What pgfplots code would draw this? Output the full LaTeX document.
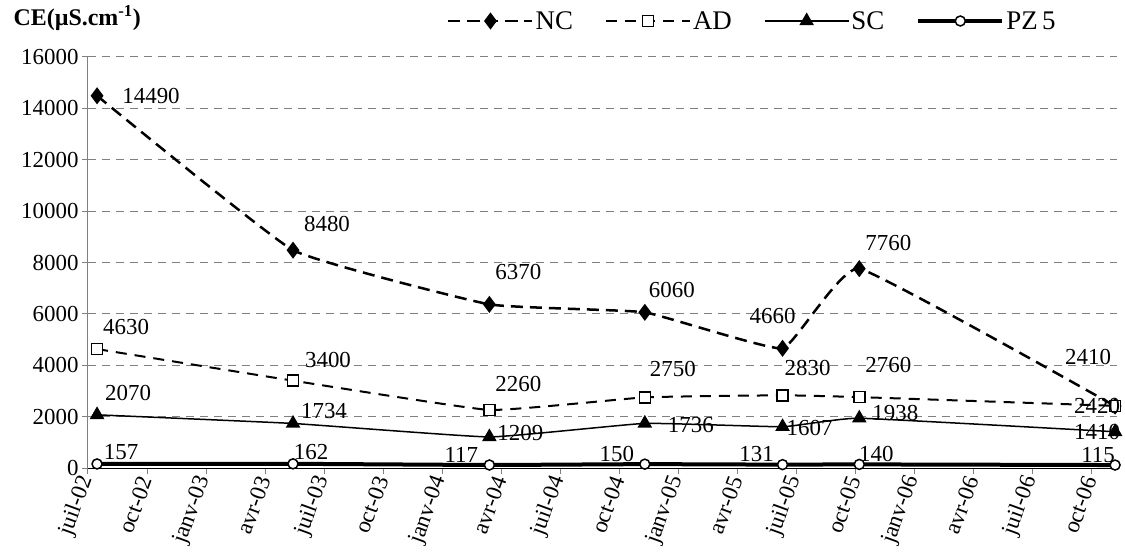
\documentclass[border=0pt]{standalone}
\usepackage{fontspec}
\setmainfont{Liberation Serif}
\usepackage{pgfplots}
\usepackage{pgfplotstable}
\pgfplotsset{compat=1.18}

% x = months after 1 July 2002; dx, dy = label offset (bp)
\pgfplotstableread{
x     y      dx   dy
0.46  14490  54   0
10.42 8480   34   26
20.4  6370   29   32
28.3  6060   27   22
35.3  4660   -10  32
39.2  7760   29   26
52.2  2410   -27  49
}\nc
\pgfplotstableread{
x     y     dx   dy
0.46  4630  29   22
10.42 3400  35   21
20.4  2260  29   26
28.3  2750  28   28
35.3  2830  25   27
39.2  2760  29   32
52.2  2420  -18  0
}\ad
\pgfplotstableread{
x     y     dx   dy
0.46  2070  31   22
10.42 1734  31   12
20.4  1209  31   4
28.3  1736  46   -2
35.3  1607  27   -1
39.2  1938  36   5
52.2  1410  -18  0
}\sc
\pgfplotstableread{
x     y    dx   dy
0.46  157  24   12
10.42 162  18   12
20.4  117  -28  10
28.3  150  -28  10
35.3  131  -26  11
39.2  140  17   10
52.2  115  -17  10
}\pz

\begin{document}
\begin{tikzpicture}
\begin{axis}[
  scale only axis, width=1029bp, height=411bp,
  at={(0,0)}, anchor=south west,
  xmin=0, xmax=52.3, ymin=0, ymax=16000,
  clip=false,
  axis x line*=bottom, axis y line*=left,
  x axis line style={-, black, line width=1bp},
  y axis line style={-, gray, line width=1bp},
  xtick={0,3,...,51},
  xticklabels={juil-02,oct-02,janv-03,avr-03,juil-03,oct-03,janv-04,avr-04,juil-04,oct-04,janv-05,avr-05,juil-05,oct-05,janv-06,avr-06,juil-06,oct-06},
  ytick={0,2000,...,16000},
  scaled y ticks=false,
  ymajorgrids,
  grid style={gray, dash pattern=on 8bp off 6bp, line width=1bp},
  tick align=outside, major tick length=6bp,
  tick style={gray, line width=1bp},
  /pgf/number format/1000 sep={},
  /pgf/number format/assume math mode=true,
  xticklabel style={rotate=70, anchor=east, font=\fontsize{23}{23}\selectfont},
  yticklabel style={font=\fontsize{23}{23}\selectfont},
  ylabel={\textbf{CE(µS.cm\textsuperscript{-1})}},
  ylabel style={rotate=-90, at={(axis description cs:-0.0757,1.095)}, anchor=west, font=\fontsize{24}{24}\selectfont},
  nodes near coords,
  every node near coord/.append style={anchor=center, xshift=\dx bp, yshift=\dy bp, font=\fontsize{23}{23}\selectfont, text=black},
  visualization depends on={\thisrow{dx} \as \dx},
  visualization depends on={\thisrow{dy} \as \dy},
  legend columns=4,
  legend style={draw=none, fill=none, at={(axis description cs:0.346,1.0876)}, anchor=west,
    font=\fontsize{27}{27}\selectfont,
    /tikz/every even column/.append style={column sep=30bp}},
  legend image code/.code={\draw[mark repeat=2,mark phase=2,#1] plot coordinates {(0bp,0bp) (42bp,0bp) (84bp,0bp)};},
]
\addplot[black, smooth, /tikz/tension=0.2, line width=2.5bp, dash pattern=on 12bp off 7bp,
  mark=diamond*, mark size=6.5bp, mark options={solid}] table[x=x,y=y] {\nc};
\addlegendentry{NC}
\addplot[black, smooth, /tikz/tension=0.2, line width=2bp, dash pattern=on 11bp off 8bp,
  mark=square*, mark size=5.5bp, mark options={solid, fill=white, line width=1.5bp}] table[x=x,y=y] {\ad};
\addlegendentry{AD}
\addplot[black, smooth, /tikz/tension=0.2, line width=1.5bp,
  mark=triangle*, mark size=7bp] table[x=x,y=y] {\sc};
\addlegendentry{SC}
\addplot[black, smooth, /tikz/tension=0.2, line width=4bp,
  mark=*, mark size=5bp, mark options={fill=white, line width=1.5bp}] table[x=x,y=y] {\pz};
\addlegendentry{PZ\,5}
\end{axis}
\pgfresetboundingbox
\useasboundingbox (-88bp,-85bp) rectangle (1037bp,468bp);
\end{tikzpicture}
\end{document}
